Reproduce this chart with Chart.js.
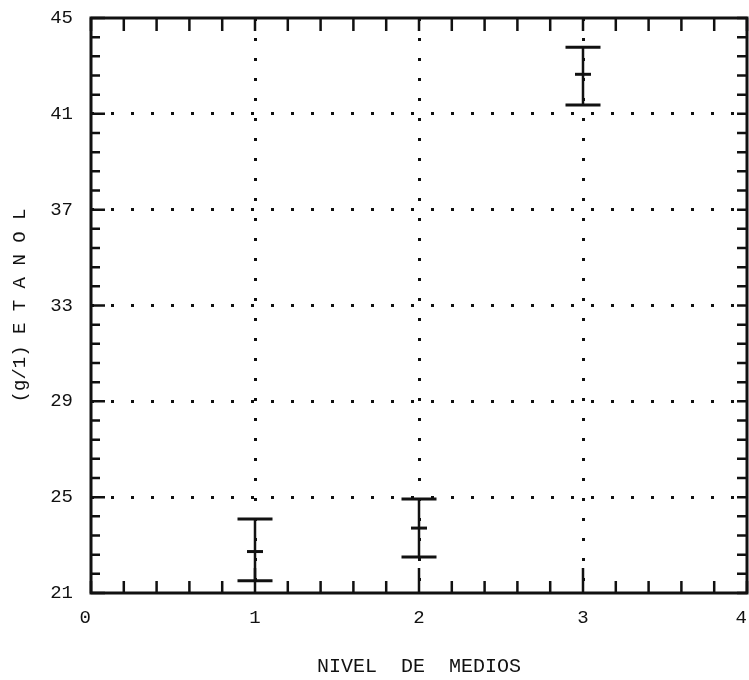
<!DOCTYPE html>
<html><head><meta charset="utf-8">
<script src="https://cdn.jsdelivr.net/npm/chart.js@4/dist/chart.umd.min.js"></script>
<style>html,body{margin:0;padding:0;background:#fff}#wrap{width:749px;height:680px;position:relative}</style>
</head><body><div id="wrap"><canvas id="c"></canvas></div>
<script>
const categories = [1, 2, 3];
const meanValues = [22.73, 23.71, 42.65];
const lowValues = [21.51, 22.50, 41.37];
const highValues = [24.09, 24.92, 43.78];
const xTickLabels = [0, 1, 2, 3, 4];
const yTickLabels = [21, 25, 29, 33, 37, 41, 45];
const xGridValues = [1, 2, 3];
const yGridValues = [25, 29, 33, 37, 41];
const xTitle = 'NIVEL  DE  MEDIOS';
const yTitle = '(g/1) E T A N O L';

const INK = '#111';
const FONT = "'Liberation Mono', 'DejaVu Sans Mono', monospace";
const r1 = v => Math.round(v * 100) / 100;

const stemData = [];
categories.forEach((c, i) => {
  stemData.push({x: c, y: lowValues[i]});
  stemData.push({x: c, y: highValues[i]});
  stemData.push({x: c, y: null});
});
const capData = [];
categories.forEach((c, i) => {
  capData.push({x: c, y: lowValues[i]});
  capData.push({x: c, y: highValues[i]});
});
const meanData = categories.map((c, i) => ({x: c, y: meanValues[i]}));

const noPad = s => { s.paddingTop = 0; s.paddingBottom = 0; s.paddingLeft = 0; s.paddingRight = 0; };

const frameTicks = {
  id: 'frameTicks',
  afterDatasetsDraw(chart) {
    const {ctx, chartArea: a, scales: {x, y}} = chart;
    ctx.save();
    ctx.strokeStyle = INK;
    ctx.lineWidth = 2.5;
    ctx.lineCap = 'butt';
    ctx.beginPath();
    x.ticks.forEach(t => {
      const px = x.getPixelForValue(t.value);
      const major = xGridValues.includes(r1(t.value));
      ctx.moveTo(px, a.bottom); ctx.lineTo(px, a.bottom - (major ? 25 : 12));
      ctx.moveTo(px, a.top); ctx.lineTo(px, a.top + 13);
    });
    y.ticks.forEach(t => {
      const py = y.getPixelForValue(t.value);
      const major = yTickLabels.includes(r1(t.value));
      ctx.moveTo(a.left, py); ctx.lineTo(a.left + (major ? 14 : 9), py);
      ctx.moveTo(a.right, py); ctx.lineTo(a.right - 10, py);
    });
    ctx.stroke();
    ctx.lineWidth = 3;
    ctx.strokeRect(a.left, a.top, a.width, a.height);
    ctx.restore();
  }
};

const xLabel = v => {
  const r = r1(v);
  if (!xTickLabels.includes(r)) return '';
  const edge = r === xTickLabels[0] || r === xTickLabels[xTickLabels.length - 1];
  return edge ? String(r) + ' ' : String(r);
};

new Chart(document.getElementById('c'), {
  type: 'scatter',
  data: {
    datasets: [
      {data: stemData, showLine: true, spanGaps: false, borderColor: INK, borderWidth: 2.5, pointRadius: 0},
      {data: capData, pointStyle: 'line', pointRadius: 17.5, borderColor: INK, pointBorderWidth: 3, backgroundColor: INK},
      {data: meanData, pointStyle: 'line', pointRadius: 8, borderColor: INK, pointBorderWidth: 3, backgroundColor: INK}
    ]
  },
  options: {
    responsive: true,
    maintainAspectRatio: false,
    animation: false,
    events: [],
    layout: {autoPadding: false, padding: {left: 0, right: 2, top: 18, bottom: 0}},
    plugins: {legend: {display: false}, tooltip: {enabled: false}},
    scales: {
      x: {
        type: 'linear', min: 0, max: 4,
        afterFit: s => { s.height = 87; noPad(s); },
        ticks: {
          stepSize: 0.2, autoSkip: false, maxRotation: 0, padding: 14,
          color: INK, font: {family: FONT, size: 19},
          callback: xLabel
        },
        grid: {
          drawTicks: false, lineWidth: 3,
          color: c => (c.tick && xGridValues.includes(r1(c.tick.value))) ? INK : 'rgba(0,0,0,0)'
        },
        border: {display: false, dash: [3, 17]},
        title: {display: true, text: xTitle, color: INK, font: {family: FONT, size: 20}, padding: {top: 0, bottom: 1}}
      },
      y: {
        type: 'linear', min: 21, max: 45,
        afterFit: s => { s.width = 91; noPad(s); },
        ticks: {
          stepSize: 0.8, autoSkip: false, padding: 18,
          color: INK, font: {family: FONT, size: 19},
          callback: v => yTickLabels.includes(r1(v)) ? String(r1(v)) : ''
        },
        grid: {
          drawTicks: false, lineWidth: 3,
          color: c => (c.tick && yGridValues.includes(r1(c.tick.value))) ? INK : 'rgba(0,0,0,0)'
        },
        border: {display: false, dash: [3, 17]},
        title: {display: true, text: yTitle, color: INK, font: {family: FONT, size: 19}, padding: {top: 9, bottom: 0}}
      }
    }
  },
  plugins: [frameTicks]
});
</script>
</body></html>
